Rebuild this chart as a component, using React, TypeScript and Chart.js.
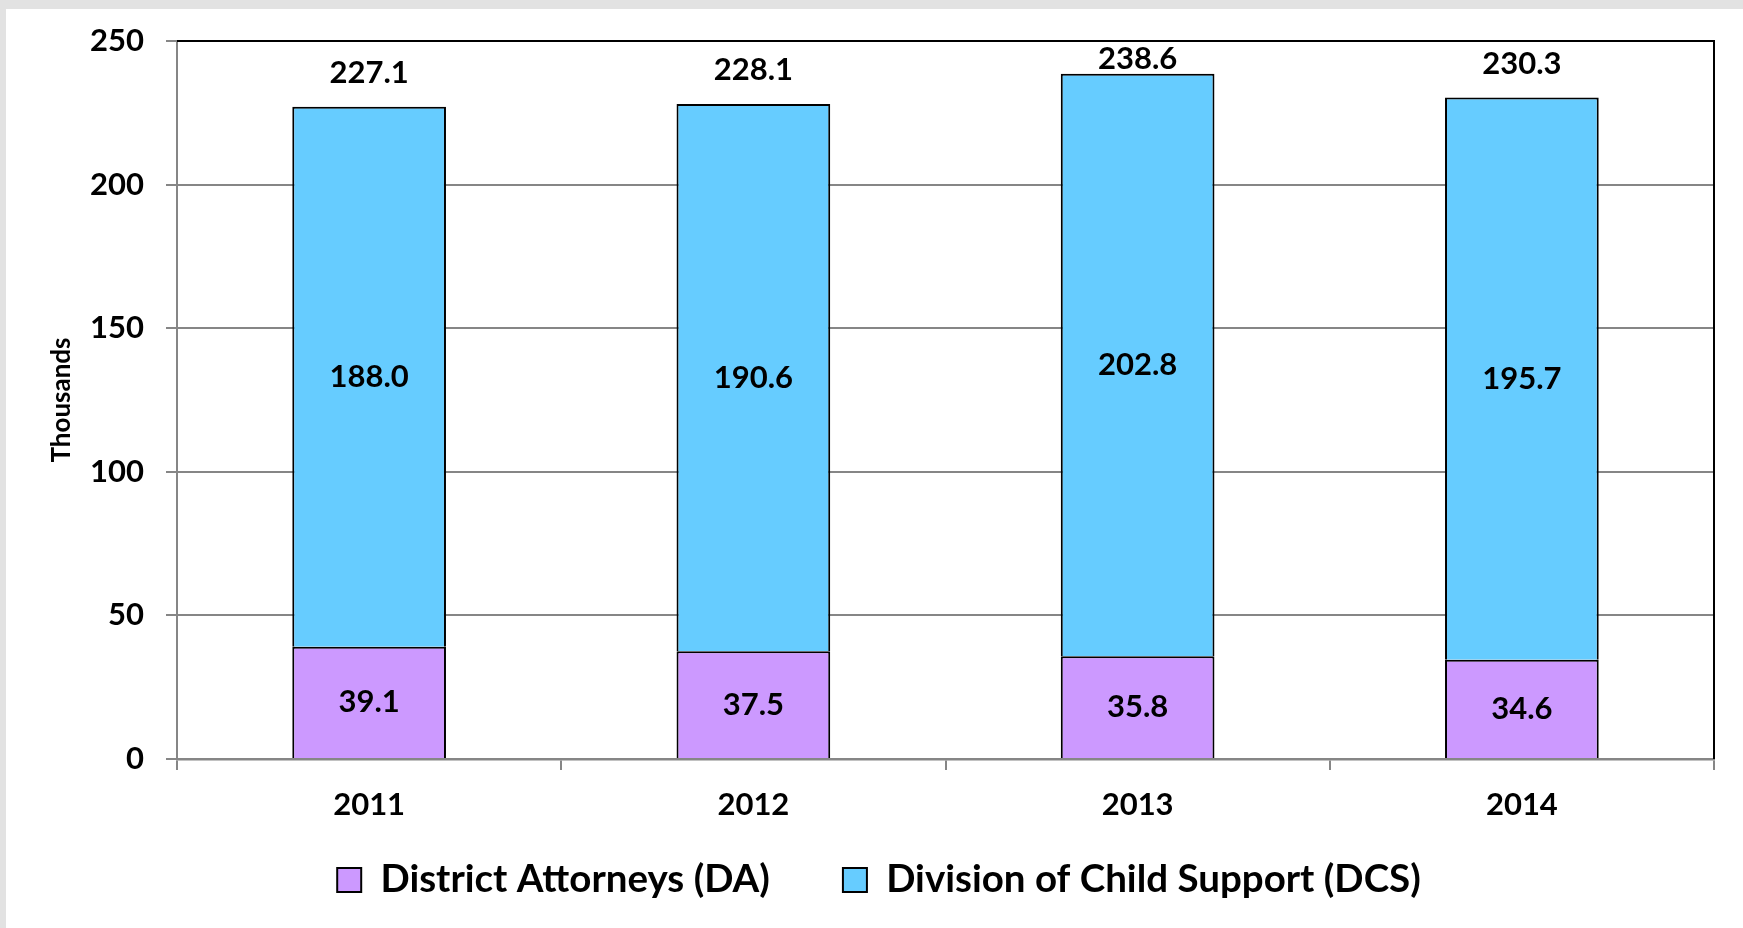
import React, { useEffect, useRef } from "react";
import { Chart, registerables } from "chart.js";

Chart.register(...registerables);

const categories = ["2011", "2012", "2013", "2014"];
const daValues = [39.1, 37.5, 35.8, 34.6];
const dcsValues = [188.0, 190.6, 202.8, 195.7];
const totalValues = [227.1, 228.1, 238.6, 230.3];
const yTicks = [0, 50, 100, 150, 200, 250];
const seriesNames = ["District Attorneys (DA)", "Division of Child Support (DCS)"];

const W = 1743;
const H = 928;
const FONT = "Lato";
const GRID = "#868686";

const noClipPlugin = {
  id: "noLabelClip",
  beforeDraw(chart: any) {
    const sx = chart.scales.x;
    if (sx) sx._computeLabelArea = () => undefined;
  },
};

const labelsPlugin = {
  id: "valueLabels",
  afterDatasetsDraw(chart: any) {
    const ctx = chart.ctx;
    const area = chart.chartArea;
    ctx.save();
    // frame: top and right black lines
    ctx.strokeStyle = "#000";
    ctx.lineWidth = 2;
    ctx.beginPath();
    ctx.moveTo(area.left, area.top);
    ctx.lineTo(area.right, area.top);
    ctx.lineTo(area.right, area.bottom);
    ctx.stroke();

    ctx.font = `bold 31px ${FONT}`;
    ctx.fillStyle = "#000";
    ctx.textAlign = "center";
    ctx.textBaseline = "middle";
    [daValues, dcsValues].forEach((vals, di) => {
      const meta = chart.getDatasetMeta(di);
      meta.data.forEach((bar: any, i: number) => {
        const { x, y, base } = bar.getProps(["x", "y", "base"], true);
        ctx.fillText(vals[i].toFixed(1), x, (y + base) / 2);
      });
    });
    const topMeta = chart.getDatasetMeta(1);
    topMeta.data.forEach((bar: any, i: number) => {
      const y = chart.scales.y.getPixelForValue(totalValues[i]);
      const ly = Math.max(y - 34, area.top + 18);
      ctx.fillText(totalValues[i].toFixed(1), bar.x, ly);
    });
    ctx.restore();
  },
};

export default function App() {
  const ref = useRef<HTMLCanvasElement | null>(null);

  useEffect(() => {
    if (!ref.current) return;
    Chart.defaults.font.family = FONT;
    const chart = new Chart(ref.current, {
      type: "bar",
      data: {
        labels: categories,
        datasets: [
          {
            label: seriesNames[0],
            data: daValues,
            backgroundColor: "#CC99FF",
            borderColor: "#000000",
            borderWidth: 2,
          },
          {
            label: seriesNames[1],
            data: dcsValues,
            backgroundColor: "#66CCFF",
            borderColor: "#000000",
            borderWidth: 2,
          },
        ],
      },
      options: {
        responsive: false,
        animation: false,
        events: [],
        layout: { padding: { left: 44, top: 41, right: 29, bottom: 18.75 } },
        datasets: {
          bar: { categoryPercentage: 1, barPercentage: 0.4 },
        },
        plugins: {
          tooltip: { enabled: false },
          legend: {
            position: "bottom",
            labels: {
              boxWidth: 24,
              boxHeight: 24,
              padding: 73,
              color: "#000",
              font: { family: FONT, size: 38.5, weight: "bold" },
            },
          },
        },
        scales: {
          x: {
            stacked: true,
            offset: true,
            grid: {
              offset: true,
              drawOnChartArea: false,
              drawTicks: true,
              tickLength: 11,
              color: GRID,
              lineWidth: 2,
            },
            border: { color: GRID, width: 2.5 },
            ticks: {
              color: "#000",
              padding: 16,
              font: { family: FONT, size: 31, weight: "bold" },
              maxRotation: 0,
            },
            afterFit: (scale: any) => {
              scale.height = 28.75;
            },
          },
          y: {
            stacked: true,
            min: 0,
            max: 250,
            afterBuildTicks: (scale: any) => {
              scale.ticks = yTicks.map((v) => ({ value: v }));
            },
            grid: { color: GRID, lineWidth: 2, tickLength: 11 },
            border: { color: GRID, width: 2 },
            ticks: {
              color: "#000",
              padding: 22,
              font: { family: FONT, size: 31, weight: "bold" },
            },
            title: {
              display: true,
              text: "Thousands",
              color: "#000",
              font: { family: FONT, size: 26, weight: "bold" },
              padding: { top: 2.4, bottom: 0 },
            },
            afterFit: (scale: any) => {
              scale.width = 133;
            },
          },
        },
      },
      plugins: [noClipPlugin, labelsPlugin],
    });
    return () => chart.destroy();
  }, []);

  return (
    <div
      style={{
        position: "fixed",
        left: 0,
        top: 0,
        width: W,
        height: H,
        background: "#e2e2e2",
        overflow: "hidden",
      }}
    >
      <div
        style={{
          position: "absolute",
          left: 6,
          top: 9,
          right: 0,
          bottom: 0,
          background: "#ffffff",
        }}
      />
      <canvas
        ref={ref}
        width={W}
        height={H}
        style={{ position: "absolute", left: 0, top: 0, width: W, height: H }}
      />
    </div>
  );
}
